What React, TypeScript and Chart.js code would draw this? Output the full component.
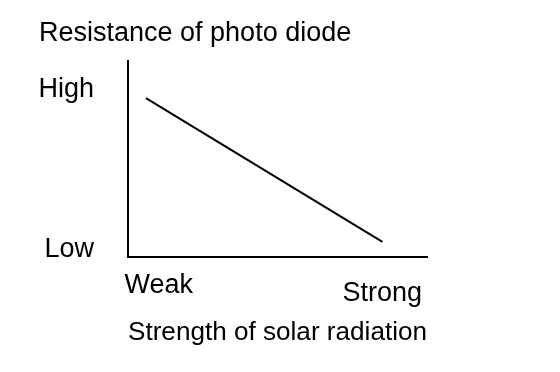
import React, { useEffect, useRef } from "react";
import { Chart, registerables } from "chart.js";

Chart.register(...registerables);

const chartTitle = "Resistance of photo diode";
const xAxisTitle = "Strength of solar radiation";
const xTickValues = [0.103, 0.85];
const xTickLabels = ["Weak", "Strong"];
const yTickValues = [0.036, 0.852];
const yTickLabels = ["Low", "High"];
const lineX = [0.06, 0.851];
const lineY = [0.811, 0.077];

const FONT = '"Liberation Sans", Arial, Helvetica, sans-serif';

export default function App() {
  const ref = useRef<HTMLCanvasElement | null>(null);

  useEffect(() => {
    if (!ref.current) return;
    const chart = new Chart(ref.current, {
      type: "line",
      data: {
        datasets: [
          {
            data: lineX.map((x, i) => ({ x, y: lineY[i] })),
            borderColor: "#000",
            borderWidth: 2,
            pointRadius: 0,
            fill: false,
          },
        ],
      },
      options: {
        responsive: false,
        animation: false,
        color: "#000",
        layout: { padding: { left: 39, right: 133, top: 0, bottom: 19.6 } },
        plugins: {
          legend: { display: false },
          tooltip: { enabled: false },
          title: {
            display: true,
            text: chartTitle,
            align: "start",
            color: "#000",
            font: { family: FONT, size: 27, weight: "normal", lineHeight: 1.2 },
            padding: { top: 17.4, bottom: 11.2 },
          },
        },
        scales: {
          x: {
            type: "linear",
            min: 0,
            max: 1,
            grid: { display: false, drawTicks: false },
            border: { display: true, color: "#000", width: 2 },
            afterBuildTicks: (scale: any) => {
              scale.ticks = xTickValues.map((v) => ({ value: v }));
            },
            afterFit: (scale: any) => {
              scale.height = 95.4;
            },
            ticks: {
              color: "#000",
              padding: 14,
              maxRotation: 0,
              autoSkip: false,
              font: (ctx: any) => ({
                family: FONT,
                size: 27,
                lineHeight: ctx.index === 1 ? 1.667 : 1.07,
              }),
              callback: (_v: any, i: number) => xTickLabels[i],
            },
            title: {
              display: true,
              text: xAxisTitle,
              color: "#000",
              font: { family: FONT, size: 26.5, lineHeight: 1.2 },
              padding: { top: 0, bottom: 4 },
            },
          },
          y: {
            type: "linear",
            min: 0,
            max: 1,
            grid: { display: false, drawTicks: false },
            border: { display: true, color: "#000", width: 2 },
            afterBuildTicks: (scale: any) => {
              scale.ticks = yTickValues.map((v) => ({ value: v }));
            },
            afterFit: (scale: any) => {
              scale.width = 89;
            },
            ticks: {
              color: "#000",
              padding: 34,
              autoSkip: false,
              font: { family: FONT, size: 27, lineHeight: 1.2 },
              callback: (_v: any, i: number) => yTickLabels[i],
            },
          },
        },
      },
    });
    return () => chart.destroy();
  }, []);

  return (
    <div
      style={{
        position: "fixed",
        left: 0,
        top: 0,
        width: 560,
        height: 372,
        background: "#fff",
      }}
    >
      <canvas ref={ref} width={560} height={372} style={{ display: "block" }} />
    </div>
  );
}
